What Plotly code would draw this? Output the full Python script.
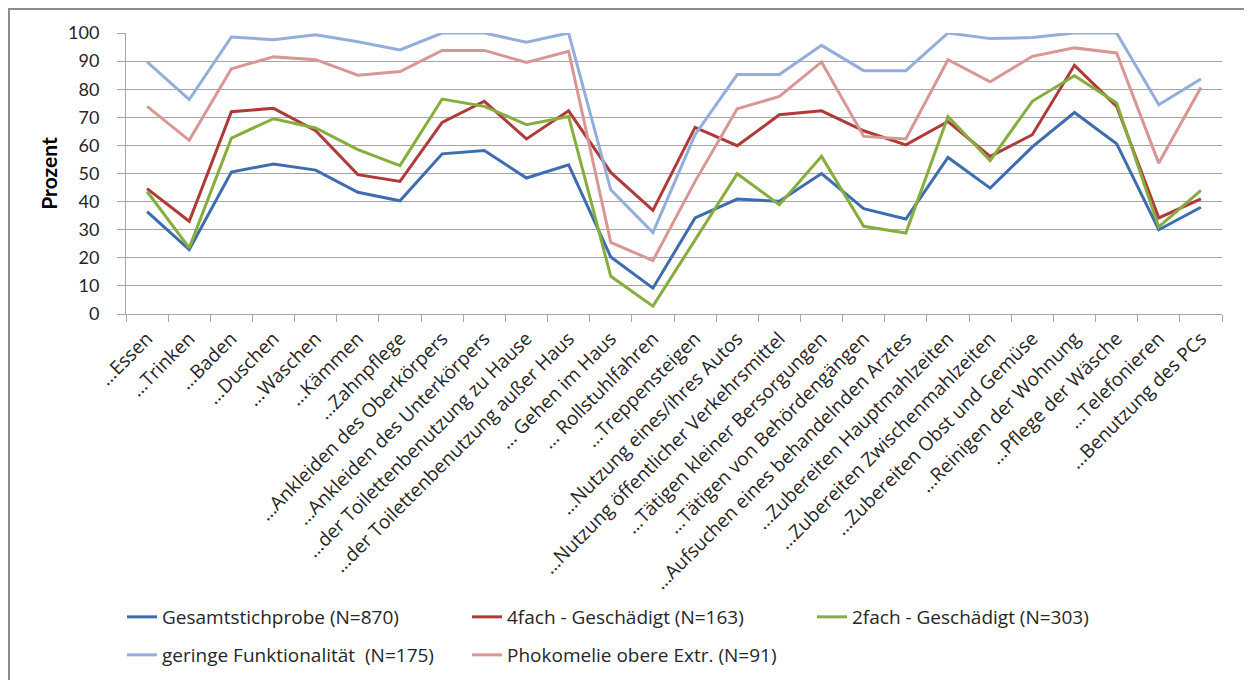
import plotly.graph_objects as go

categories = [
    "…Essen", "…Trinken", "…Baden", "…Duschen", "…Waschen", "…Kämmen",
    "…Zahnpflege", "…Ankleiden des Oberkörpers", "…Ankleiden des Unterkörpers",
    "…der Toilettenbenutzung zu Hause", "…der Toilettenbenutzung außer Haus",
    "… Gehen im Haus", "… Rollstuhlfahren", "…Treppensteigen",
    "…Nutzung eines/ihres Autos", "…Nutzung öffentlicher Verkehrsmittel",
    "…Tätigen kleiner Bersorgungen", "…Tätigen von Behördengängen",
    "…Aufsuchen eines behandelnden Arztes", "…Zubereiten Hauptmahlzeiten",
    "…Zubereiten Zwischenmahlzeiten", "…Zubereiten Obst und Gemüse",
    "…Reinigen der Wohnung", "…Pflege der Wäsche", "…Telefonieren",
    "…Benutzung des PCs",
]

gesamt = [36.4, 22.9, 50.5, 53.4, 51.2, 43.3, 40.3, 57.0, 58.2, 48.4, 53.1,
          20.3, 9.2, 34.2, 40.9, 40.1, 50.0, 37.5, 33.8, 55.7, 44.8, 59.5,
          71.7, 60.6, 30.0, 38.0]
vierfach = [44.6, 33.0, 72.0, 73.2, 65.2, 49.6, 47.2, 68.2, 75.7, 62.3, 72.3,
            50.4, 36.9, 66.4, 59.9, 70.9, 72.3, 65.2, 60.2, 68.5, 56.1, 63.8,
            88.5, 73.9, 34.2, 41.0]
zweifach = [43.6, 23.5, 62.6, 69.5, 66.2, 58.5, 52.8, 76.5, 73.9, 67.4, 70.3,
            13.4, 2.8, 26.4, 49.9, 38.9, 56.1, 31.2, 28.8, 70.3, 54.6, 75.7,
            84.8, 75.1, 31.0, 44.0]
gering = [89.7, 76.3, 98.6, 97.6, 99.4, 96.9, 94.0, 100.0, 100.0, 96.7, 100.0,
          44.2, 29.0, 63.8, 85.2, 85.2, 95.6, 86.6, 86.6, 100.0, 98.0, 98.4,
          100.0, 100.0, 74.5, 83.6]
phokomelie = [73.9, 61.8, 87.3, 91.5, 90.5, 85.0, 86.3, 93.8, 93.8, 89.5, 93.5,
              25.5, 19.0, 47.2, 73.0, 77.4, 89.7, 63.2, 62.3, 90.5, 82.6, 91.7,
              94.7, 92.9, 53.7, 80.6]

series = [
    ("Gesamtstichprobe (N=870)", gesamt, "#3D6DB0", "legend"),
    ("4fach - Geschädigt (N=163)", vierfach, "#B03A37", "legend"),
    ("2fach - Geschädigt (N=303)", zweifach, "#86AD3D", "legend"),
    ("geringe Funktionalität  (N=175)", gering, "#93AEDB", "legend2"),
    ("Phokomelie obere Extr. (N=91)", phokomelie, "#D99694", "legend2"),
]

fig = go.Figure()
for name, vals, color, lg in series:
    fig.add_trace(go.Scatter(
        x=categories, y=vals, name=name, mode="lines",
        line=dict(color=color, width=3), legend=lg,
    ))

# page is shown with an 8px body margin; work in screen pixels minus offset
OFF = 8
W, H = 1252 - OFF, 680 - OFF
plot_left, plot_right, plot_top, plot_bottom = 126, 1222, 33, 314
L = plot_left - OFF
R = W - (plot_right - OFF)
T = plot_top - OFF
B = H - (plot_bottom - OFF)
pw, ph = W - L - R, H - T - B

def px_x(p):
    return (p - OFF - L) / pw

def px_y(p):
    return (H - B - (p - OFF)) / ph

grid = "#A6A6A6"
tickfont = dict(family="Open Sans, Lato, sans-serif", size=19, color="#262626")
legfont = dict(family="Open Sans, Lato, sans-serif", size=19, color="#262626")

fig.update_layout(
    width=W, height=H,
    margin=dict(l=L, r=R, t=T, b=B, autoexpand=False),
    paper_bgcolor="white", plot_bgcolor="white",
    showlegend=True,
    xaxis=dict(
        type="category", showgrid=False, showline=True, linecolor=grid,
        linewidth=1, ticks="outside", tickson="boundaries", ticklen=7,
        tickcolor=grid, tickangle=-45, tickfont=tickfont, ticklabelstandoff=5,
        range=[-0.5, len(categories) - 0.5],
    ),
    yaxis=dict(
        range=[0, 100], dtick=10, showgrid=True, gridcolor=grid, gridwidth=1,
        showline=True, linecolor=grid, ticks="outside", ticklen=8,
        tickcolor=grid, zeroline=False, ticklabelstandoff=14,
        tickfont=dict(family="Lato, Open Sans, sans-serif", size=18, color="#262626"),
        title=dict(text="<b>Prozent</b>", font=dict(family="Lato, sans-serif", size=21,
                                                    color="#000000"), standoff=4),
    ),
    legend=dict(
        orientation="h", x=px_x(122), y=px_y(617), xanchor="left", yanchor="middle",
        font=legfont, entrywidth=300, entrywidthmode="pixels",
        bgcolor="rgba(0,0,0,0)", itemwidth=30,
    ),
    legend2=dict(
        orientation="h", x=px_x(122), y=px_y(655), xanchor="left", yanchor="middle",
        font=legfont, entrywidth=300, entrywidthmode="pixels",
        bgcolor="rgba(0,0,0,0)", itemwidth=30,
    ),
    shapes=[dict(
        type="rect", xref="paper", yref="paper",
        x0=px_x(9), x1=px_x(1246), y0=px_y(720), y1=px_y(9),
        line=dict(color="#8C8C8C", width=2), fillcolor="rgba(0,0,0,0)",
        layer="below",
    )],
)

fig.write_html("out.html")
